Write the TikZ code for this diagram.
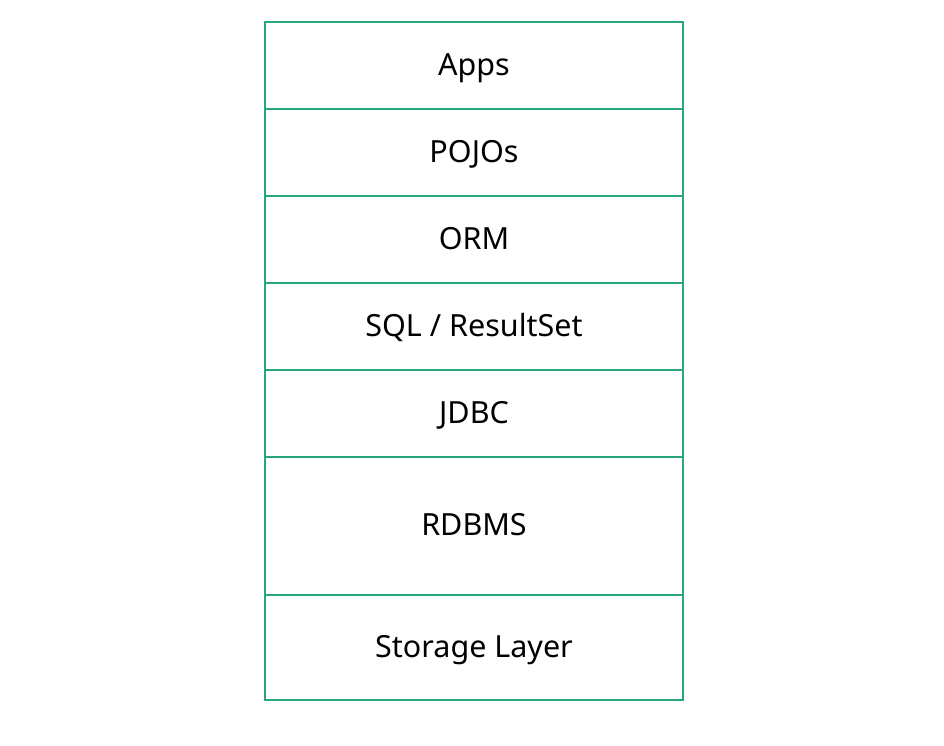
\documentclass[tikz,border=0pt]{standalone}
\usepackage{fontspec}
\setmainfont{Noto Sans}
\definecolor{lay}{RGB}{40,168,118}
\begin{document}
\begin{tikzpicture}[x=1pt,y=-1pt,
  layer/.style={draw=lay,line width=2pt,minimum width=418pt,inner sep=0pt,anchor=north west,
    text height=22pt,text depth=2.4pt,
    font=\fontsize{30.5}{35}\selectfont,text=black}]
\useasboundingbox (0,0) rectangle (944,746);
\node[layer,minimum height=87pt] (apps) at (264,21) {Apps};
\node[layer,minimum height=87pt] (pojo) at (264,108) {POJOs};
\node[layer,minimum height=87pt] (orm) at (264,195) {ORM};
\node[layer,minimum height=87pt] (sql) at (264,282) {SQL / ResultSet};
\node[layer,minimum height=87pt] (jdbc) at (264,369) {JDBC};
\node[layer,minimum height=138pt] (rdbms) at (264,456) {RDBMS};
\node[layer,minimum height=105pt] (stor) at (264,594) {Storage Layer};
\end{tikzpicture}
\end{document}
